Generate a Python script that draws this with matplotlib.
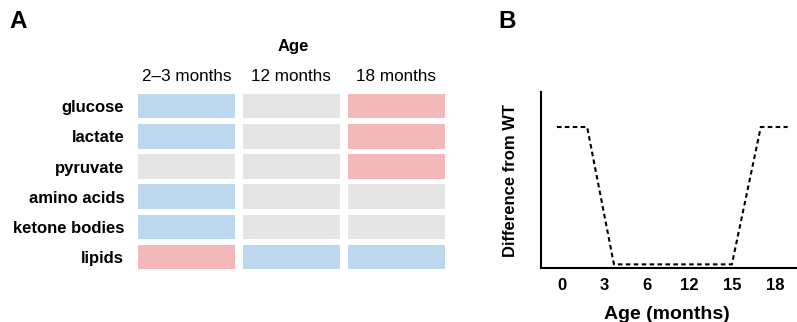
import numpy as np
import matplotlib.pyplot as plt

plt.rcParams['font.family'] = ['Liberation Sans', 'DejaVu Sans']

# Panel A: direction of change per metabolite and age group
metabolites = ['glucose', 'lactate', 'pyruvate', 'amino acids', 'ketone bodies', 'lipids']
age_groups = ['2\u20133 months', '12 months', '18 months']
# -1 = lower than WT, 0 = no difference, 1 = higher than WT
change = [
    [-1, 0, 1],
    [-1, 0, 1],
    [0, 0, 1],
    [-1, 0, 0],
    [-1, 0, 0],
    [1, -1, -1],
]
change_colors = {-1: '#bdd7ee', 0: '#e5e5e5', 1: '#f2b8ba'}

# Panel B: schematic difference from WT over age
age_ticks = ['0', '3', '6', '12', '15', '18']
curve_x = [-0.12, 0.59, 1.22, 3.99, 4.67, 5.30]
curve_y = [0.80, 0.80, 0.02, 0.02, 0.80, 0.80]

fig = plt.figure(figsize=(7.97, 3.22), dpi=100)

# ---- A ----
axA = fig.add_axes([0.168, 0.155, 0.395, 0.562])
rows = np.arange(len(metabolites))
grid = np.array(change)
for j in range(len(age_groups)):
    cols = [change_colors[v] for v in grid[:, j]]
    axA.barh(rows, 0.92, left=j - 0.46, height=0.81, color=cols)
axA.set_xlim(-0.5, 2.5)
axA.set_ylim(5.5, -0.5)
axA.set_yticks(rows, metabolites, fontweight='bold', fontsize=12)
axA.set_xticks(np.arange(len(age_groups)), age_groups, fontsize=12.3)
axA.xaxis.tick_top()
axA.tick_params(length=0, pad=5)
axA.tick_params(axis='y', pad=7)
for s in axA.spines.values():
    s.set_visible(False)
fig.text(293 / 797, 1 - 46 / 322, 'Age', fontweight='bold', fontsize=12,
         ha='center', va='center')
fig.text(18 / 797, 1 - 22 / 322, 'A', fontweight='bold', fontsize=17.5,
         ha='center', va='center')

# ---- B ----
axB = fig.add_axes([0.679, 0.168, 0.321, 0.547])
axB.plot(curve_x, curve_y, color='black', lw=1.5, linestyle=(0, (2.2, 1.6)))
axB.set_xlim(-0.49, 5.52)
axB.set_ylim(0, 1)
axB.set_xticks(np.arange(len(age_ticks)), age_ticks, fontweight='bold', fontsize=12)
axB.set_yticks([])
axB.tick_params(length=0, pad=7)
axB.spines['top'].set_visible(False)
axB.spines['right'].set_visible(False)
axB.spines['left'].set_linewidth(1.5)
axB.spines['bottom'].set_linewidth(1.5)
axB.set_ylabel('Difference from WT', fontweight='bold', fontsize=12)
axB.yaxis.set_label_coords(-0.09, 0.494)
xl = axB.set_xlabel('Age (months)', fontweight='bold', fontsize=14)
xl.set_va('baseline')
axB.xaxis.set_label_coords(0.49, -0.29)
fig.text(507 / 797, 1 - 22 / 322, 'B', fontweight='bold', fontsize=17.5,
         ha='center', va='center')

fig.savefig('out.png', dpi=100)
